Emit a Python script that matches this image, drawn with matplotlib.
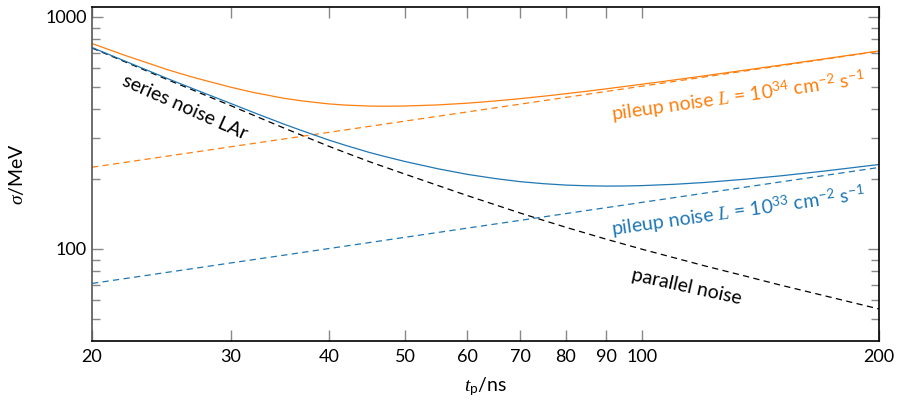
import matplotlib
matplotlib.use("Agg")
import matplotlib.pyplot as plt
from matplotlib.ticker import FixedLocator, FixedFormatter, NullLocator, LogLocator, NullFormatter

plt.rcParams['font.family'] = ['Lato', 'DejaVu Sans']
plt.rcParams['mathtext.fontset'] = 'custom'
plt.rcParams['mathtext.rm'] = 'Lato'
plt.rcParams['mathtext.it'] = 'Liberation Serif:italic'
plt.rcParams['mathtext.bf'] = 'Lato:bold'

# shaping time t_p (ns)
t_p = [20, 22, 25, 27, 30, 32, 35, 37, 40, 42, 45, 47, 50, 55, 60, 65, 70, 75, 80, 85,
       90, 95, 100, 110, 120, 135, 150, 170, 200]
# electronic noise (series + parallel), MeV
noise_el = [735, 642, 535, 480.7, 415, 378.4, 333, 308.4, 277, 260, 238, 226, 210, 187.8,
            169.7, 155.2, 142.8, 132.7, 124.0, 116.7, 110.2, 104.7, 99.7, 91.5, 84.6, 76.5,
            69.8, 63.0, 55.1]
# pileup noise L=1e33
pileup_33 = [71, 74.47, 79.4, 82.49, 87, 89.81, 93.9, 96.57, 100.4, 102.89, 106.5, 108.84,
             112.3, 117.74, 123, 128.0, 132.8, 137.5, 142, 146.4, 150.6, 154.7, 158.8, 166.5,
             173.9, 184.5, 194.5, 207.0, 224.5]
# pileup noise L=1e34
pileup_34 = [225, 236.0, 251.6, 261.4, 275.6, 284.6, 297.6, 306.0, 318.2, 326.0, 337.5,
             344.9, 355.8, 373.1, 389.7, 405.6, 420.9, 435.7, 450, 463.8, 477.3, 490.4,
             503.1, 527.7, 551.1, 584.6, 616.2, 656.0, 711.5]
# total noise L=1e33
total_33 = [738.4, 646.3, 540.9, 487.7, 424.0, 388.9, 346.0, 323.2, 294.6, 279.6, 260.7,
            250.8, 238.1, 221.7, 209.6, 201.2, 195.0, 191.1, 188.5, 187.2, 186.6, 186.8,
            187.5, 190.0, 193.4, 199.7, 206.6, 216.4, 231.2]
# total noise L=1e34
total_34 = [768.7, 684.0, 591.2, 547.2, 498.2, 473.5, 446.6, 434.5, 421.9, 417.0, 413.0,
            412.3, 413.2, 417.7, 425.0, 434.3, 444.5, 455.5, 466.8, 478.3, 489.9, 501.5,
            512.9, 535.6, 557.6, 589.6, 620.1, 659.0, 713.6]

x_ticks = [20, 30, 40, 50, 60, 70, 80, 90, 100, 200]
x_ticklabels = ['20', '30', '40', '50', '60', '70', '80', '90', '100', '200']
y_ticks = [100, 1000]
y_ticklabels = ['100', '1000']

c_orange = '#ff7f0e'
c_blue = '#1f77b4'

fig = plt.figure(figsize=(8.97, 4.08), dpi=100)
ax = fig.add_axes([92/897, 67/408, (879-92)/897, (341-7)/408])
ax.set_xscale('log')
ax.set_yscale('log')

dash = (0, (5, 3.5))
lw = 0.9
ax.plot(t_p, noise_el, color='black', lw=lw, linestyle=dash)
ax.plot(t_p, pileup_33, color=c_blue, lw=lw, linestyle=dash)
ax.plot(t_p, pileup_34, color=c_orange, lw=lw, linestyle=dash)
ax.plot(t_p, total_33, color=c_blue, lw=lw)
ax.plot(t_p, total_34, color=c_orange, lw=lw)

ax.set_xlim(20, 200)
ax.set_ylim(40.1, 1104)

ax.xaxis.set_major_locator(FixedLocator(x_ticks))
ax.xaxis.set_major_formatter(FixedFormatter(x_ticklabels))
ax.xaxis.set_minor_locator(NullLocator())
ax.yaxis.set_major_locator(FixedLocator(y_ticks))
ax.yaxis.set_major_formatter(FixedFormatter(y_ticklabels))
ax.yaxis.set_minor_locator(LogLocator(base=10, subs=range(2, 10)))
ax.yaxis.set_minor_formatter(NullFormatter())

ax.tick_params(which='both', direction='in', top=True, right=True, color='#888888', labelsize=13, width=1)
ax.tick_params(which='major', length=8)
ax.tick_params(which='minor', length=6)
ax.tick_params(axis='x', pad=6)

for s in ax.spines.values():
    s.set_linewidth(1.2)
ax.spines['left'].set_color('#555555')

ax.set_xlabel(r'$t_{\mathrm{p}}$/ns', fontsize=14, labelpad=7)
ax.set_ylabel(r'$\sigma$/MeV', fontsize=14, labelpad=14)

fs = 14
ax.text((185-92)/787, 1 - (107-7)/334, 'series noise LAr', transform=ax.transAxes,
        rotation=-24, ha='center', va='center', fontsize=fs, rotation_mode='anchor')
ax.text((687-92)/787, 1 - (287-7)/334, 'parallel noise', transform=ax.transAxes,
        rotation=-12.5, ha='center', va='center', fontsize=fs, rotation_mode='anchor')
ax.text((738-92)/787, 1 - (97-7)/334, r'pileup noise $L$ = 10$^{34}$ cm$^{-2}$ s$^{-1}$',
        transform=ax.transAxes, color=c_orange, rotation=8, ha='center', va='center',
        fontsize=fs, rotation_mode='anchor')
ax.text((738-92)/787, 1 - (212-7)/334, r'pileup noise $L$ = 10$^{33}$ cm$^{-2}$ s$^{-1}$',
        transform=ax.transAxes, color=c_blue, rotation=8, ha='center', va='center',
        fontsize=fs, rotation_mode='anchor')

fig.savefig('out.png', dpi=100)
